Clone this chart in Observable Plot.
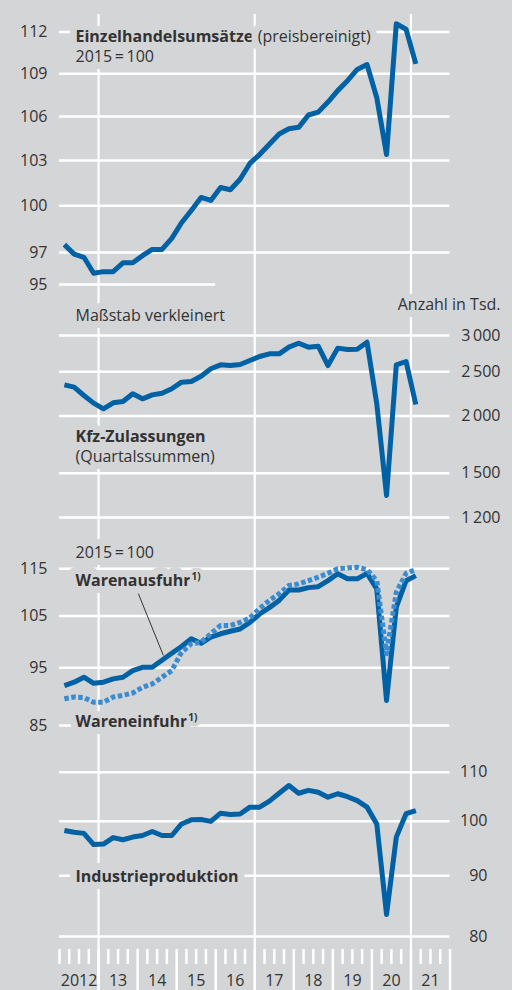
<!DOCTYPE html>
<html><head><meta charset="utf-8">
<script src="https://cdn.jsdelivr.net/npm/d3@7"></script>
<script src="https://cdn.jsdelivr.net/npm/@observablehq/plot@0.6"></script>
<style>
html,body{margin:0;padding:0;background:#d4d5d7;}
#chart{position:relative;width:512px;height:990px;background:#d4d5d7;overflow:hidden;font-family:"Open Sans",sans-serif;}
#chart svg{position:absolute;left:0;top:0;}
</style></head><body><div id="chart"></div>
<script>
// ---- data (quarterly, 2012 Q1 – 2021 Q1) ----
const quarters = d3.range(37).map(i => 2012 + (i + 0.5) / 4);
const retail = [97.5, 96.9, 96.7, 95.7, 95.8, 95.8, 96.35, 96.35, 96.8, 97.2, 97.2, 97.9, 98.9, 99.7, 100.55, 100.35, 101.2, 101.05, 101.75, 102.8, 103.4, 104.1, 104.8, 105.15, 105.25, 106.1, 106.3, 107.0, 107.8, 108.5, 109.3, 109.65, 107.3, 103.4, 112.6, 112.2, 109.7];
const kfz = [2340, 2313, 2218, 2134, 2074, 2138, 2152, 2237, 2181, 2225, 2244, 2294, 2372, 2380, 2444, 2537, 2588, 2579, 2593, 2645, 2699, 2735, 2735, 2829, 2886, 2829, 2843, 2579, 2815, 2796, 2800, 2901, 2127, 1341, 2588, 2632, 2119];
const exportsIdx = [91.8, 92.4, 93.3, 92.2, 92.4, 93.0, 93.3, 94.5, 95.1, 95.1, 96.4, 97.7, 99.0, 100.5, 99.6, 100.8, 101.45, 101.95, 102.4, 103.7, 105.4, 106.7, 108.2, 110.4, 110.4, 110.9, 111.1, 112.4, 113.9, 112.8, 112.8, 114.0, 110.6, 89.2, 106.8, 112.4, 113.5];
const importsIdx = [89.5, 89.8, 89.7, 88.9, 88.9, 89.8, 90.1, 90.5, 91.5, 92.1, 93.3, 94.5, 97.9, 99.5, 99.8, 101.45, 103.1, 103.1, 103.7, 104.6, 106.5, 108.2, 109.6, 111.35, 111.7, 112.4, 113.15, 114.0, 115.0, 115.2, 115.35, 114.8, 112.4, 97.6, 109.9, 114.0, 114.8];
const industry = [98.25, 97.9, 97.7, 95.6, 95.7, 96.9, 96.5, 97.0, 97.3, 98.05, 97.3, 97.3, 99.5, 100.3, 100.35, 100.0, 101.6, 101.35, 101.45, 102.8, 102.8, 104.0, 105.6, 107.2, 105.6, 106.2, 105.8, 104.8, 105.5, 104.9, 104.1, 102.8, 99.5, 83.5, 97.0, 101.5, 102.1];

const years = d3.range(2012, 2022);
const yearLabels = ["2012", "13", "14", "15", "16", "17", "18", "19", "20", "21"];
const retailTicks = [112, 109, 106, 103, 100, 97, 95];
const kfzTicks = [3000, 2500, 2000, 1500, 1200];
const tradeTicks = [115, 105, 95, 85];
const industryTicks = [110, 100, 90, 80];
const gridYears = [2013, 2017, 2021];
const leader = [{x1: 2014.02, y1: 109.6, x2: 2014.66, y2: 97.3}];

// ---- styling ----
const BG = "#d4d5d7", TXT = "#333333", DARK = "#0061a5", LIGHT = "#3a8bcf", FS = 16;
const ctx = document.createElement("canvas").getContext("2d");
function tw(str, weight = 400, size = FS) { ctx.font = `${weight} ${size}px "Open Sans"`; return ctx.measureText(str).width; }

function label(str, x, baseline, {weight = 400, anchor = "start", size = FS, halo = 14} = {}) {
  return Plot.text([str], {text: d => d, frameAnchor: "top-left", dx: x, dy: baseline - 0.32 * size,
    textAnchor: anchor, lineAnchor: "middle", fontSize: size, fontWeight: weight, fill: TXT,
    stroke: BG, strokeWidth: halo, strokeLinejoin: "round"});
}
function series(vals) { return quarters.map((x, i) => ({x, v: vals[i]})); }
function grid(ticks, x2 = 2022) { return Plot.ruleY(ticks, {y: d => d, x1: 2012, x2, stroke: "white", strokeWidth: 2.5}); }
function leftTicks(ticks, fmt = d => String(d)) {
  return Plot.text(ticks, {y: d => d, text: fmt, frameAnchor: "left", dx: 47, textAnchor: "end", lineAnchor: "middle", fill: TXT, fontSize: FS});
}
function rightTicks(ticks, edge, fmt = d => String(d)) {
  return Plot.text(ticks, {y: d => d, text: fmt, frameAnchor: "right", dx: edge - 512, textAnchor: "end", lineAnchor: "middle", fill: TXT, fontSize: FS});
}
function layer(y, marks) {
  return Plot.plot({
    width: 512, height: 990, marginTop: 0, marginRight: 0, marginBottom: 0, marginLeft: 0,
    x: {domain: [2012, 2022], range: [59, 449.5], axis: null},
    y: y ? {...y, axis: null} : undefined,
    style: {background: "transparent", overflow: "visible", fontFamily: "'Open Sans', sans-serif", fontSize: FS + "px"},
    marks
  });
}
const lineOpts = {x: "x", y: "v", stroke: DARK, strokeWidth: 5, strokeLinejoin: "round", strokeLinecap: "butt"};

const qTicks = d3.range(2012, 2022, 0.25).filter(d => d === 2012 || d % 1 !== 0);
const yTicks = d3.range(2013, 2023);

const chart = document.getElementById("chart");

// background layer: vertical grid + x axis
chart.append(layer(null, [
  Plot.ruleX(gridYears, {x: d => d, insetTop: 14, stroke: "white", strokeWidth: 2.2}),
  Plot.ruleX(qTicks, {x: d => d, insetTop: 949, insetBottom: 26, stroke: "white", strokeWidth: 2.5}),
  Plot.ruleX(yTicks, {x: d => d, insetTop: 949, stroke: "white", strokeWidth: 2.5}),
  Plot.text(years, {x: d => d + 0.5, text: (d, i) => yearLabels[i], frameAnchor: "bottom", dy: -5 - 0.32 * FS, lineAnchor: "middle", textAnchor: "middle", fill: TXT, fontSize: FS})
]));

// panel 1: retail
const t1 = "Einzelhandelsumsätze";
chart.append(layer({type: "log", domain: [95, 112], range: [284, 31.5]}, [
  grid(retailTicks.filter(d => d !== 95)),
  grid([95], 2016),
  label(t1, 75, 41.7, {weight: 700}),
  label("(preisbereinigt)", 75 + tw(t1, 700) + 4.5, 41.7),
  label("2015\u2009=\u2009100", 75, 61.7),
  leftTicks(retailTicks),
  Plot.line(series(retail), lineOpts)
]));

// panel 2: car registrations
const kfmt = d => String(d).replace(/(\d)(\d{3})$/, "$1\u2009$2");
chart.append(layer({type: "log", domain: [1200, 3000], range: [517, 335]}, [
  grid(kfzTicks),
  label("Maßstab verkleinert", 75, 320),
  label("Anzahl in Tsd.", 500, 309.3, {anchor: "end"}),
  label("Kfz-Zulassungen", 75, 441.7, {weight: 700}),
  label("(Quartalssummen)", 75, 461.7),
  rightTicks(kfzTicks, 500, kfmt),
  Plot.line(series(kfz), lineOpts)
]));

// panel 3: trade
const ta = "Warenausfuhr", te = "Wareneinfuhr";
chart.append(layer({type: "log", domain: [85, 115], range: [725, 568.3]}, [
  grid(tradeTicks),
  label("2015\u2009=\u2009100", 75, 557.3),
  label(ta, 75, 585, {weight: 700}),
  label("1)", 75 + tw(ta, 700) + 1, 579, {weight: 700, size: 10, halo: 8}),
  label(te, 75, 726, {weight: 700}),
  label("1)", 75 + tw(te, 700) + 1, 720, {weight: 700, size: 10, halo: 8}),
  leftTicks(tradeTicks),
  Plot.link(leader, {x1: "x1", y1: "y1", x2: "x2", y2: "y2", stroke: "#222", strokeWidth: 0.9}),
  Plot.line(series(exportsIdx), lineOpts),
  Plot.line(series(importsIdx), {...lineOpts, stroke: LIGHT, strokeDasharray: "4.5 2.5"})
]));

// panel 4: industry
chart.append(layer({type: "log", domain: [80, 110], range: [936, 771.7]}, [
  grid(industryTicks),
  label("Industrieproduktion", 75, 881.7, {weight: 700}),
  rightTicks(industryTicks, 487),
  Plot.line(series(industry), lineOpts)
]));
</script></body></html>
